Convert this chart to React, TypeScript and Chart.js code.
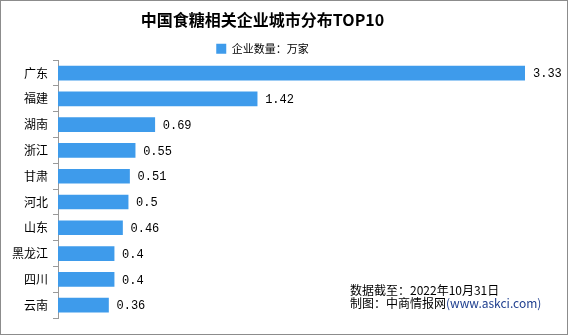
import React, { useEffect, useRef } from 'react';
import { Chart, registerables } from 'chart.js';

Chart.register(...registerables);

const titleText = '中国食糖相关企业城市分布TOP10';
const seriesName = '企业数量：万家';
const categories = ['广东', '福建', '湖南', '浙江', '甘肃', '河北', '山东', '黑龙江', '四川', '云南'];
const companyCounts = [3.33, 1.42, 0.69, 0.55, 0.51, 0.5, 0.46, 0.4, 0.4, 0.36];
const footerDate = '数据截至：2022年10月31日';
const footerSource = '制图：中商情报网';
const footerUrl = '(www.askci.com)';

const BAR_COLOR = '#3E9BEB';
const CJK = '"Noto Sans CJK SC", "Noto Sans", sans-serif';

const valueLabels = {
  id: 'valueLabels',
  afterDatasetsDraw(chart: any) {
    const ctx = chart.ctx;
    const meta = chart.getDatasetMeta(0);
    const data = chart.data.datasets[0].data as number[];
    ctx.save();
    ctx.font = '12px "Liberation Mono", "DejaVu Sans Mono", monospace';
    ctx.fillStyle = '#000';
    ctx.textAlign = 'left';
    ctx.textBaseline = 'middle';
    meta.data.forEach((el: any, i: number) => {
      ctx.fillText(String(data[i]), el.x + 8, el.y + 1);
    });
    ctx.restore();
  },
};

export default function App() {
  const ref = useRef<HTMLCanvasElement | null>(null);

  useEffect(() => {
    if (!ref.current) return;
    const chart = new Chart(ref.current, {
      type: 'bar',
      data: {
        labels: categories,
        datasets: [
          {
            label: seriesName,
            data: companyCounts,
            backgroundColor: BAR_COLOR,
            borderWidth: 0,
            barThickness: 14,
          },
        ],
      },
      plugins: [valueLabels],
      options: {
        indexAxis: 'y',
        responsive: false,
        animation: false,
        devicePixelRatio: 1,
        layout: { padding: { left: 0, right: 43, top: 0, bottom: 17 } },
        scales: {
          x: {
            display: false,
            min: 0,
            max: Math.max(...companyCounts),
          },
          y: {
            afterFit: (scale: any) => {
              scale.width = 58;
            },
            grid: {
              display: true,
              drawOnChartArea: false,
              drawTicks: true,
              tickLength: 5,
              color: '#999',
              offset: true,
            },
            border: { display: true, color: '#999', width: 1 },
            ticks: {
              color: '#000',
              padding: 5,
              font: { family: CJK, size: 12 },
            },
          },
        },
        plugins: {
          title: {
            display: true,
            text: titleText,
            color: '#000',
            font: { family: CJK, size: 16, weight: 'bold' },
            padding: { top: 10, bottom: 10 },
          },
          legend: {
            display: true,
            maxHeight: 21,
            labels: {
              boxWidth: 10,
              boxHeight: 10,
              padding: 4,
              color: '#000',
              font: { family: CJK, size: 11 },
            },
          },
          tooltip: { enabled: false },
        },
      },
    });
    return () => chart.destroy();
  }, []);

  return (
    <div style={{ position: 'absolute', left: 0, top: 0, width: 568, height: 335, background: '#fff', overflow: 'hidden' }}>
      <canvas ref={ref} width={568} height={335} style={{ position: 'absolute', left: 0, top: 0, width: 568, height: 335 }} />
      <div
        style={{
          position: 'absolute',
          left: 350,
          top: 283,
          fontFamily: CJK,
          fontSize: 12,
          lineHeight: '13px',
          color: '#000',
          whiteSpace: 'nowrap',
        }}
      >
        <div>{footerDate}</div>
        <div>
          {footerSource}
          <span style={{ color: '#1F3F8F' }}>{footerUrl}</span>
        </div>
      </div>
      <div
        style={{
          position: 'absolute',
          left: 0,
          top: 0,
          width: 568,
          height: 335,
          boxSizing: 'border-box',
          border: '1px solid #8c8c8c',
          pointerEvents: 'none',
        }}
      />
    </div>
  );
}
